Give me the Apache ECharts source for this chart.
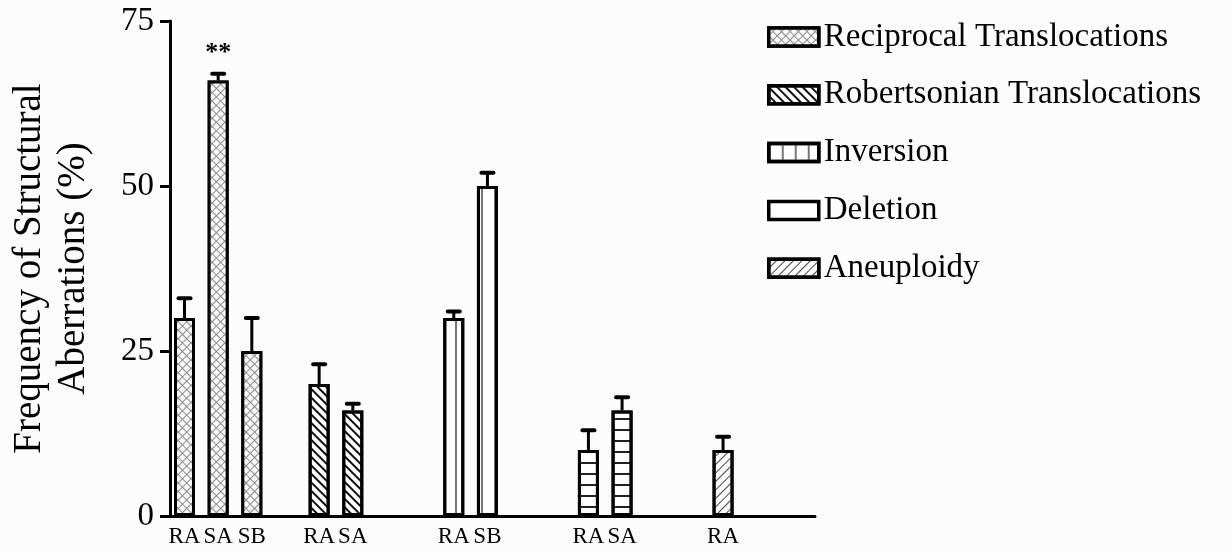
<!DOCTYPE html>
<html>
<head>
<meta charset="utf-8">
<script src="https://cdn.jsdelivr.net/npm/echarts@6/dist/echarts.min.js"></script>
<style>
html,body{margin:0;padding:0;background:#fcfcfc;}
#chart{width:1231px;height:553px;}
</style>
</head>
<body>
<div id="chart"></div>
<script>
// ---- data ----
const categories = ['RA','SA','SB','','RA','SA','','','RA','SB','','','RA','SA','','','RA'];
const seriesNames = ['Reciprocal Translocations','Robertsonian Translocations','Inversion','Deletion','Aneuploidy'];
const reciprocal      = [30, 66, 25, '-', '-', '-', '-', '-', '-', '-', '-', '-', '-', '-', '-', '-', '-'];
const reciprocalErr   = [ 3,  1,  5, '-', '-', '-', '-', '-', '-', '-', '-', '-', '-', '-', '-', '-', '-'];
const robertsonian    = ['-', '-', '-', '-', 20, 16, '-', '-', '-', '-', '-', '-', '-', '-', '-', '-', '-'];
const robertsonianErr = ['-', '-', '-', '-',  3,  1, '-', '-', '-', '-', '-', '-', '-', '-', '-', '-', '-'];
const inversion       = ['-', '-', '-', '-', '-', '-', '-', '-', 30, 50, '-', '-', '-', '-', '-', '-', '-'];
const inversionErr    = ['-', '-', '-', '-', '-', '-', '-', '-',  1,  2, '-', '-', '-', '-', '-', '-', '-'];
const deletion        = ['-', '-', '-', '-', '-', '-', '-', '-', '-', '-', '-', '-', 10, 16, '-', '-', '-'];
const deletionErr     = ['-', '-', '-', '-', '-', '-', '-', '-', '-', '-', '-', '-',  3,  2, '-', '-', '-'];
const aneuploidy      = ['-', '-', '-', '-', '-', '-', '-', '-', '-', '-', '-', '-', '-', '-', '-', '-', 10];
const aneuploidyErr   = ['-', '-', '-', '-', '-', '-', '-', '-', '-', '-', '-', '-', '-', '-', '-', '-',  2];
const significance    = ['', '**', '', '', '', '', '', '', '', '', '', '', '', '', '', '', ''];
const yTicks = [0, 25, 50, 75];

const FONT = 'Liberation Serif';
const decals = [
  {symbol:'rect', symbolSize:1, color:'#fafafa', backgroundColor:'#8c8c8c', dashArrayX:[5,1], dashArrayY:[5,1], rotation:Math.PI/4},
  {symbol:'rect', symbolSize:1, color:'#111', dashArrayX:[1,0], dashArrayY:[2,4], rotation:Math.PI/4},
  {symbol:'rect', symbolSize:1, color:'#777', dashArrayX:[2,11], dashArrayY:[1,0], rotation:0},
  {symbol:'rect', symbolSize:1, color:'#222', dashArrayX:[1,0], dashArrayY:[2,9], rotation:0},
  {symbol:'rect', symbolSize:1, color:'#444', dashArrayX:[1,0], dashArrayY:[1,5], rotation:-Math.PI/4}
];
const values = [reciprocal, robertsonian, inversion, deletion, aneuploidy];
const errors = [reciprocalErr, robertsonianErr, inversionErr, deletionErr, aneuploidyErr];

// error bar data: [slot, value, err, label]
const errData = [];
values.forEach((arr, s) => arr.forEach((v, i) => {
  if (v !== '-') errData.push([i, v, errors[s][i], significance[i]]);
}));

const chart = echarts.init(document.getElementById('chart'));
const slotW = 33.66;
const gridLeft = 167.67;

const barSeries = seriesNames.map((name, s) => ({
  name: name,
  type: 'bar',
  xAxisIndex: 1, yAxisIndex: 1,
  barWidth: 21,
  barGap: '-100%',
  data: values[s],
  itemStyle: {color:'#fff', borderColor:'#000', borderWidth:3, decal: decals[s]},
  emphasis: {disabled: true},
  silent: true
}));

chart.setOption({
  animation: false,
  backgroundColor: '#fcfcfc',
  grid: [
    {left: 162, width: 653, top: 21, height: 495},
    {left: gridLeft, width: slotW * categories.length, top: 21, height: 495}
  ],
  legend: {
    data: seriesNames.map(n => n === 'Deletion' ? {name: n, itemStyle: {decal: 'none'}} : n),
    orient: 'vertical',
    left: 767, top: 19,
    padding: 0,
    icon: 'rect',
    itemWidth: 50, itemHeight: 18, itemGap: 21.8,
    textStyle: {fontFamily: FONT, fontSize: 33, color: '#000', lineHeight: 36},
    itemStyle: {borderWidth: 3.5, borderColor: '#000'},
    selectedMode: false
  },
  xAxis: [
    {type: 'value', gridIndex: 0, min: 0, max: 1,
     axisLine: {show: true, lineStyle: {color: '#000', width: 3}},
     axisTick: {show: false}, axisLabel: {show: false}, splitLine: {show: false}},
    {type: 'category', gridIndex: 1, data: categories,
     axisLine: {show: false}, axisTick: {show: false}, splitLine: {show: false},
     axisLabel: {interval: 0, fontFamily: FONT, fontSize: 23, color: '#000', margin: 9}}
  ],
  yAxis: [
    {type: 'value', gridIndex: 0, min: yTicks[0], max: yTicks[yTicks.length-1], interval: 25,
     axisLine: {show: true, lineStyle: {color: '#000', width: 3}},
     axisTick: {show: true, length: 10, lineStyle: {color: '#000', width: 3}},
     axisLabel: {fontFamily: FONT, fontSize: 33, color: '#000', margin: 16},
     splitLine: {show: false},
     name: 'Frequency of Structural\nAberrations (%)',
     nameLocation: 'middle', nameRotate: 90, nameGap: 74,
     nameTextStyle: {fontFamily: FONT, fontSize: 39, color: '#000', lineHeight: 44}},
    {type: 'value', gridIndex: 1, min: yTicks[0], max: yTicks[yTicks.length-1], show: false}
  ],
  series: barSeries.concat([{
    name: 'err',
    type: 'custom',
    xAxisIndex: 1, yAxisIndex: 1,
    silent: true,
    z: 1,
    data: errData,
    renderItem: function (params, api) {
      const x = api.value(0), v = api.value(1), e = api.value(2);
      const p0 = api.coord([x, v]);
      const p1 = api.coord([x, v + e]);
      const children = [
        {type: 'line', shape: {x1: p0[0], y1: p0[1], x2: p1[0], y2: p1[1]}, style: {stroke: '#000', lineWidth: 3}},
        {type: 'line', shape: {x1: p1[0] - 6, y1: p1[1], x2: p1[0] + 6, y2: p1[1]}, style: {stroke: '#000', lineWidth: 4, lineCap: 'round'}}
      ];
      const lab = errData[params.dataIndex][3];
      if (lab) {
        children.push({type: 'text', x: p1[0], y: p1[1] - 21,
          style: {text: lab, fill: '#000', font: 'bold 26px ' + FONT, textAlign: 'center', textVerticalAlign: 'middle'}});
      }
      return {type: 'group', children: children};
    }
  }])
});
</script>
</body>
</html>
